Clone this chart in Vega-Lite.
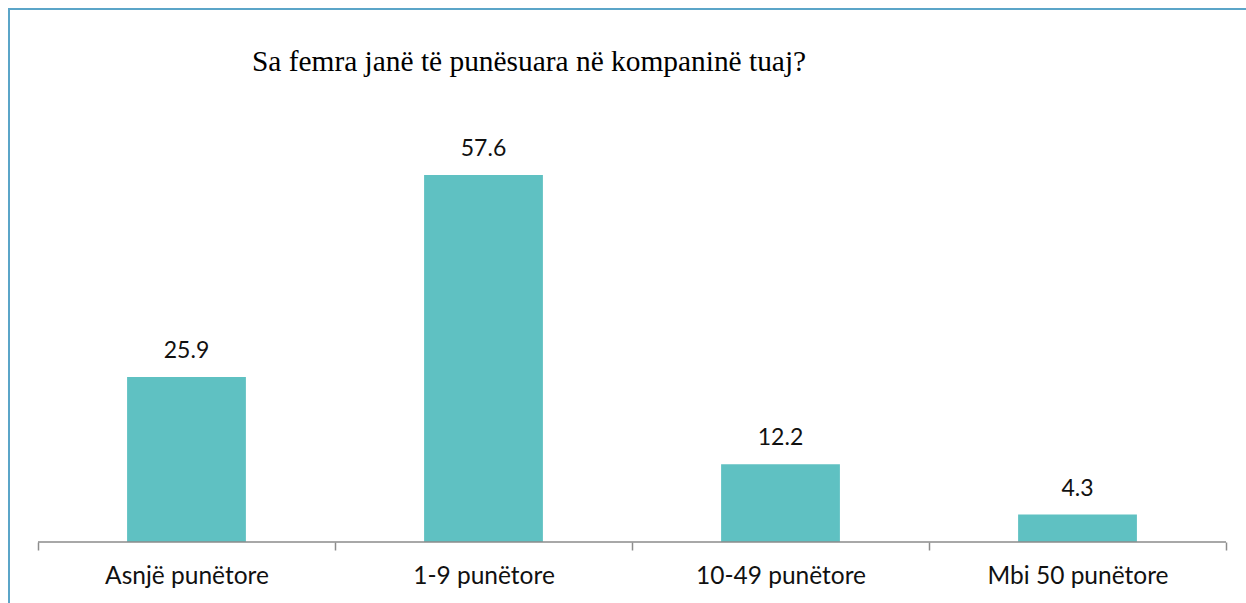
{
  "$schema": "https://vega.github.io/schema/vega-lite/v6.json",
  "autosize": "none",
  "padding": {"left": 9, "top": 9, "right": 0, "bottom": 0},
  "width": 1246,
  "height": 600,
  "background": "white",
  "config": {
    "view": {"stroke": "#5BA5C8", "strokeWidth": 2},
    "font": "Lato"
  },
  "title": {
    "text": "Sa femra janë të punësuara në kompaninë tuaj?",
    "font": "Liberation Serif",
    "fontSize": 29.4,
    "fontWeight": "normal",
    "color": "#000000",
    "anchor": "start",
    "orient": "top",
    "offset": 0,
    "baseline": "alphabetic",
    "dx": 243,
    "dy": 91
  },
  "data": {
    "values": [
      {"kategoria": "Asnjë punëtore", "vlera": 25.9},
      {"kategoria": "1-9 punëtore", "vlera": 57.6},
      {"kategoria": "10-49 punëtore", "vlera": 12.2},
      {"kategoria": "Mbi 50 punëtore", "vlera": 4.3}
    ]
  },
  "encoding": {
    "x": {
      "field": "kategoria",
      "type": "nominal",
      "sort": null,
      "scale": {"paddingInner": 0, "paddingOuter": 0.0976},
      "axis": {
        "title": null,
        "labelAngle": 0,
        "labelFont": "Lato",
        "labelFontSize": 24.5,
        "labelColor": "#111111",
        "labelBaseline": "alphabetic",
        "labelPadding": 33,
        "labelLimit": 0,
        "tickBand": "extent",
        "tickSize": 8,
        "tickColor": "#8C8C8C",
        "tickWidth": 1.5,
        "domain": false,
        "offset": -67,
        "grid": false
      }
    },
    "y": {
      "field": "vlera",
      "type": "quantitative",
      "scale": {"domain": [-10.52, 83.65], "nice": false, "zero": false},
      "axis": null
    }
  },
  "layer": [
    {
      "mark": {"type": "bar", "color": "#5FC1C2", "width": {"band": 0.4}},
      "encoding": {"y2": {"datum": 0}}
    },
    {
      "mark": {"type": "bar", "fill": null, "stroke": "#8C8C8C", "strokeWidth": 1.5, "width": {"band": 1}},
      "encoding": {"y": {"datum": 0}, "y2": {"datum": 0}}
    },
    {
      "mark": {"type": "text", "fontSize": 23, "font": "Lato", "color": "#111111", "baseline": "alphabetic", "dy": -19},
      "encoding": {"text": {"field": "vlera", "type": "quantitative", "format": ".1f"}}
    }
  ]
}
